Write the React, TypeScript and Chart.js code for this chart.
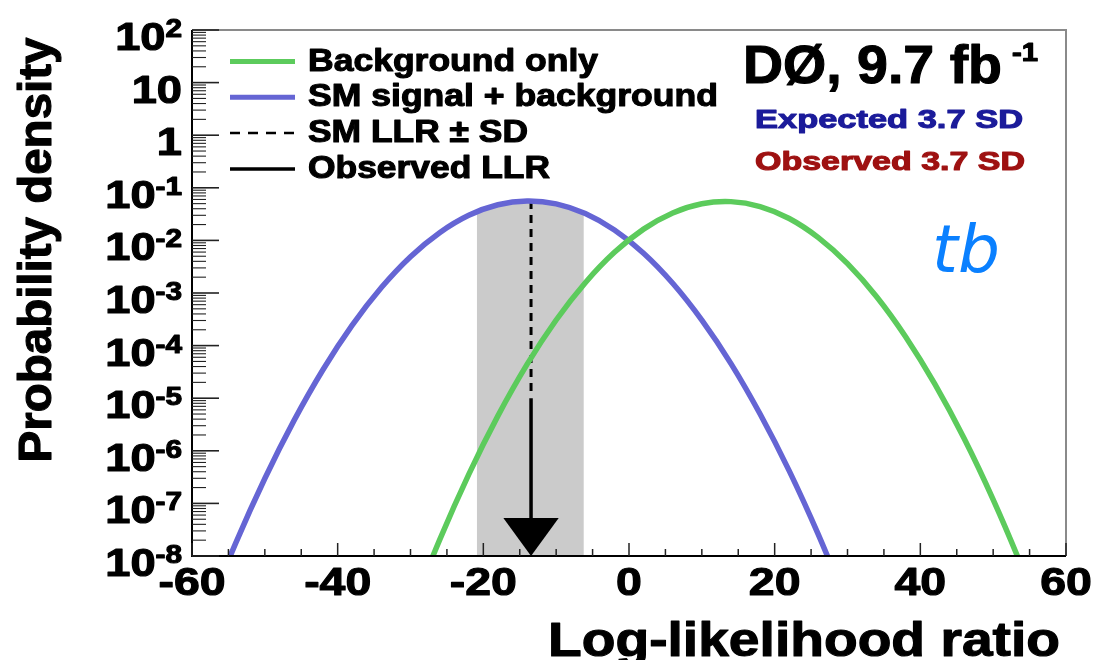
import React, { useEffect, useRef } from 'react';
import { Chart, registerables } from 'chart.js';

Chart.register(...registerables);

// ---- data ----
const BG_X = [-30, -26, -22, -18, -14, -10, -6, -2, 2, 6, 10, 14, 18, 22, 26, 30, 34, 38, 42, 46, 50, 54, 58];
const BG_Y = [8.5e-10, 2.03e-8, 3.57e-7, 4.62e-6, 4.4e-5, 3.07e-4, 1.57e-3, 5.93e-3, 1.64e-2, 3.33e-2, 4.98e-2, 5.46e-2, 4.4e-2, 2.61e-2, 1.13e-2, 3.62e-3, 8.5e-4, 1.46e-4, 1.85e-5, 1.73e-6, 1.18e-7, 5.9e-9, 2.2e-10];

const SB_X = [-58, -54, -50, -46, -42, -38, -34, -30, -26, -22, -18, -14, -10, -6, -2, 2, 6, 10, 14, 18, 22, 26, 30];
const SB_Y = [7.7e-10, 1.76e-8, 2.98e-7, 3.75e-6, 3.52e-5, 2.45e-4, 1.27e-3, 4.9e-3, 1.4e-2, 3.0e-2, 4.76e-2, 5.62e-2, 4.94e-2, 3.23e-2, 1.57e-2, 5.7e-3, 1.53e-3, 3.05e-4, 4.55e-5, 5.0e-6, 4.16e-7, 2.55e-8, 1.16e-9];

// ±SD band around the SM LLR (under the signal+background curve)
const BAND_X = [-20.9, -18, -14, -10, -6.2];
const BAND_Y = [3.5e-2, 4.76e-2, 5.62e-2, 4.94e-2, 3.32e-2];

const LLR_X = -13.45;
const SM_LLR_Y = [5.6e-2, 1.2e-5];
const OBS_LLR_Y = [1.0e-5, 5.3e-8];
const ARROW_TIP_Y = 1e-8;
const ARROW_HALF = 3.8;

const X_MIN = -60;
const X_MAX = 60;
const Y_MIN = 1e-8;
const Y_MAX = 100;
const X_LABELS = [-60, -40, -20, 0, 20, 40, 60];
const X_MINOR = [-55, -50, -45, -35, -30, -25, -15, -10, -5, 5, 10, 15, 25, 30, 35, 45, 50, 55];
const Y_EXPONENTS = [2, 1, 0, -1, -2, -3, -4, -5, -6, -7, -8];
const Y_MINOR_MULT = [2, 3, 4, 5, 6, 7, 8, 9];

const LEGEND = [
  { label: 'Background only', color: '#5ccb5c', dash: [] as number[], width: 5 },
  { label: 'SM signal + background', color: '#6565d4', dash: [] as number[], width: 5 },
  { label: 'SM LLR \u00b1 SD', color: '#000000', dash: [10, 8], width: 2.5 },
  { label: 'Observed LLR', color: '#000000', dash: [] as number[], width: 3.5 },
];

const GREEN = '#5ccb5c';
const BLUE = '#6565d4';
const BAND = '#cbcbcb';
const FONT = '"Liberation Sans", Arial, sans-serif';
const STRETCH = 1.19;

function drawText(
  ctx: CanvasRenderingContext2D,
  s: string,
  x: number,
  y: number,
  font: string,
  color: string,
  align: 'left' | 'right' | 'center',
  width?: number,
  heavy = 1.1
) {
  ctx.save();
  ctx.font = font;
  ctx.fillStyle = color;
  ctx.strokeStyle = color;
  ctx.textBaseline = 'alphabetic';
  ctx.textAlign = 'left';
  const w = ctx.measureText(s).width;
  const sx = width ? width / w : STRETCH;
  const W = w * sx;
  const left = align === 'left' ? x : align === 'right' ? x - W : x - W / 2;
  ctx.translate(left, y);
  ctx.scale(sx, 1);
  ctx.fillText(s, 0, 0);
  if (heavy > 0) {
    ctx.lineWidth = heavy;
    ctx.lineJoin = 'round';
    ctx.strokeText(s, 0, 0);
  }
  ctx.restore();
  return W;
}

function measure(ctx: CanvasRenderingContext2D, s: string, font: string) {
  ctx.save();
  ctx.font = font;
  const w = ctx.measureText(s).width * STRETCH;
  ctx.restore();
  return w;
}

const decor = {
  id: 'decor',
  afterDatasetsDraw(chart: any) {
    const { ctx, chartArea: a, scales } = chart;
    const xs = scales.x;
    const ys = scales.y;

    // arrow head of observed LLR
    ctx.save();
    ctx.fillStyle = '#000';
    const yt = ys.getPixelForValue(OBS_LLR_Y[1]);
    ctx.beginPath();
    ctx.moveTo(xs.getPixelForValue(LLR_X - ARROW_HALF), yt);
    ctx.lineTo(xs.getPixelForValue(LLR_X + ARROW_HALF), yt);
    ctx.lineTo(xs.getPixelForValue(LLR_X), ys.getPixelForValue(ARROW_TIP_Y));
    ctx.closePath();
    ctx.fill();
    ctx.restore();

    // frame
    ctx.save();
    ctx.lineWidth = 2;
    ctx.strokeStyle = '#8a8a8a';
    ctx.beginPath();
    ctx.moveTo(a.left, a.top);
    ctx.lineTo(a.right, a.top);
    ctx.lineTo(a.right, a.bottom);
    ctx.stroke();
    ctx.strokeStyle = '#000';
    ctx.beginPath();
    ctx.moveTo(a.left, a.top);
    ctx.lineTo(a.left, a.bottom);
    ctx.lineTo(a.right, a.bottom);
    ctx.stroke();

    // y ticks (inside)
    ctx.strokeStyle = '#222';
    Y_EXPONENTS.forEach((e) => {
      const py = ys.getPixelForValue(Math.pow(10, e));
      ctx.lineWidth = 1.6;
      ctx.beginPath();
      ctx.moveTo(a.left, py);
      ctx.lineTo(a.left + 27, py);
      ctx.stroke();
      if (e < 2) {
        ctx.lineWidth = 1.1;
        Y_MINOR_MULT.forEach((m) => {
          const pm = ys.getPixelForValue(m * Math.pow(10, e));
          ctx.beginPath();
          ctx.moveTo(a.left, pm);
          ctx.lineTo(a.left + 14, pm);
          ctx.stroke();
        });
      }
    });
    // x ticks (inside)
    ctx.lineWidth = 1.5;
    X_LABELS.forEach((v) => {
      const px = xs.getPixelForValue(v);
      ctx.beginPath();
      ctx.moveTo(px, a.bottom);
      ctx.lineTo(px, a.bottom - 13);
      ctx.stroke();
    });
    X_MINOR.forEach((v) => {
      const px = xs.getPixelForValue(v);
      ctx.beginPath();
      ctx.moveTo(px, a.bottom);
      ctx.lineTo(px, a.bottom - 7);
      ctx.stroke();
    });
    ctx.restore();

    // y tick labels
    const baseFont = `bold 38px ${FONT}`;
    const expFont = `bold 25px ${FONT}`;
    Y_EXPONENTS.forEach((e) => {
      const py = ys.getPixelForValue(Math.pow(10, e));
      const base = py + 20;
      const right = 182;
      if (e === 0) {
        drawText(ctx, '1', right, base, baseFont, '#000', 'right');
      } else if (e === 1) {
        drawText(ctx, '10', right, base, baseFont, '#000', 'right');
      } else {
        const ex = String(e);
        const ew = measure(ctx, ex, expFont);
        drawText(ctx, ex, right, base - 13, expFont, '#000', 'right');
        drawText(ctx, '10', right - ew, base, baseFont, '#000', 'right');
      }
    });

    // x tick labels
    X_LABELS.forEach((v) => {
      const px = xs.getPixelForValue(v);
      drawText(ctx, String(v), px, 595, `bold 39px ${FONT}`, '#000', 'center');
    });

    // axis titles
    drawText(ctx, 'Log-likelihood ratio', 1060, 656, `bold 48px ${FONT}`, '#000', 'right', 512);
    ctx.save();
    ctx.translate(51, 250);
    ctx.rotate(-Math.PI / 2);
    drawText(ctx, 'Probability density', 0, 0, `bold 46px ${FONT}`, '#000', 'center', 425);
    ctx.restore();

    // legend
    const legFont = `bold 31px ${FONT}`;
    const legRights = [598, 718, 528, 550];
    LEGEND.forEach((it, i) => {
      const base = 70.5 + i * 35.8;
      const ly = base - 9;
      ctx.save();
      ctx.strokeStyle = it.color;
      ctx.lineWidth = it.width;
      ctx.setLineDash(it.dash);
      ctx.beginPath();
      ctx.moveTo(230, ly);
      ctx.lineTo(295, ly);
      ctx.stroke();
      ctx.restore();
      drawText(ctx, it.label, 308, base, legFont, '#000', 'left', legRights[i] - 308);
    });

    // experiment labels
    drawText(ctx, 'D\u00d8, 9.7 fb', 743, 83, `bold 53px ${FONT}`, '#000', 'left', 259);
    drawText(ctx, '-1', 1012, 61, `bold 25px ${FONT}`, '#000', 'left', 26);
    drawText(ctx, 'Expected 3.7 SD', 755, 128, `bold 26px ${FONT}`, '#1b1b9a', 'left', 268);
    drawText(ctx, 'Observed 3.7 SD', 755, 170, `bold 26px ${FONT}`, '#9e1111', 'left', 270);
    drawText(ctx, 'tb', 932, 272, `italic 66px "DejaVu Sans", sans-serif`, '#0a80ff', 'left', 68, 0);
  },
};

export default function App() {
  const ref = useRef<HTMLCanvasElement>(null);

  useEffect(() => {
    const toPts = (xs: number[], ys: number[]) => xs.map((x, i) => ({ x, y: ys[i] }));
    const chart = new Chart(ref.current!, {
      type: 'line',
      data: {
        datasets: [
          {
            label: 'Background only',
            data: toPts(BG_X, BG_Y),
            borderColor: GREEN,
            borderWidth: 5.5,
            pointRadius: 0,
            tension: 0.4,
            fill: false,
            clip: 0,
          },
          {
            label: 'SM signal + background',
            data: toPts(SB_X, SB_Y),
            borderColor: BLUE,
            borderWidth: 5.5,
            pointRadius: 0,
            tension: 0.4,
            fill: false,
            clip: 0,
          },
          {
            label: 'SM LLR \u00b1 SD',
            data: SM_LLR_Y.map((y) => ({ x: LLR_X, y })),
            borderColor: '#000',
            borderWidth: 3,
            borderDash: [8, 6],
            pointRadius: 0,
            fill: false,
            clip: 0,
          },
          {
            label: 'Observed LLR',
            data: OBS_LLR_Y.map((y) => ({ x: LLR_X, y })),
            borderColor: '#000',
            borderWidth: 3.5,
            pointRadius: 0,
            fill: false,
            clip: 0,
          },
          {
            label: 'SD band',
            data: toPts(BAND_X, BAND_Y),
            borderWidth: 0,
            borderColor: 'rgba(0,0,0,0)',
            backgroundColor: BAND,
            pointRadius: 0,
            tension: 0.4,
            fill: 'start',
            clip: 0,
          },
        ],
      },
      options: {
        animation: false,
        responsive: true,
        maintainAspectRatio: false,
        devicePixelRatio: 1,
        layout: { padding: { left: 192, top: 30, right: 28, bottom: 104 } },
        plugins: { legend: { display: false }, tooltip: { enabled: false } },
        scales: {
          x: { type: 'linear', min: X_MIN, max: X_MAX, display: false },
          y: { type: 'logarithmic', min: Y_MIN, max: Y_MAX, display: false },
        },
      },
      plugins: [decor],
    });
    return () => chart.destroy();
  }, []);

  return (
    <div style={{ position: 'fixed', left: 0, top: 0, width: 1094, height: 660, background: '#fff' }}>
      <canvas ref={ref} />
    </div>
  );
}
